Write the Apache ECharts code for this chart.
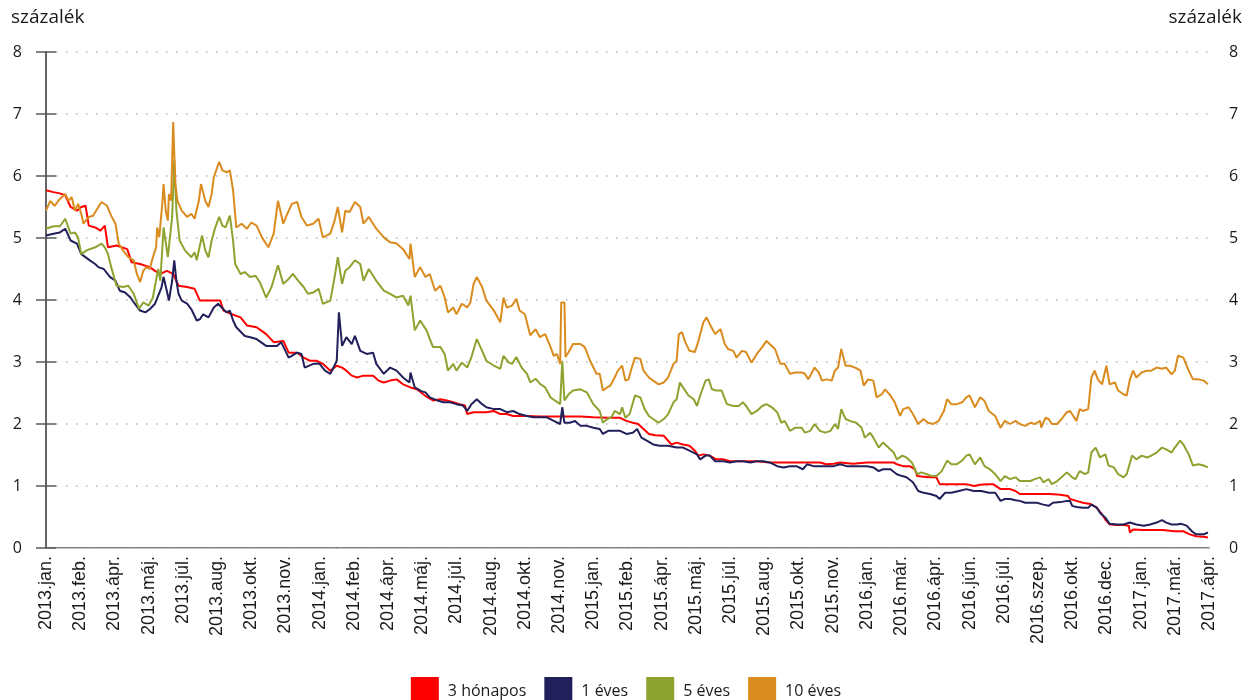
<!DOCTYPE html>
<html><head><meta charset="utf-8">
<script src="https://cdn.jsdelivr.net/npm/echarts@6/dist/echarts.min.js"></script>
<style>html,body{margin:0;padding:0;background:#fff}#c{width:1252px;height:700px}</style>
</head><body><div id="c"></div>
<script>
// x values: trading-day index since 2013 January (32 trading days between tick labels)
const tickLabels = ['2013.jan.','2013.feb.','2013.ápr.','2013.máj.','2013.júl.','2013.aug.','2013.okt.','2013.nov.',
  '2014.jan.','2014.feb.','2014.ápr.','2014.máj.','2014.júl.','2014.aug.','2014.okt.','2014.nov.',
  '2015.jan.','2015.feb.','2015.ápr.','2015.máj.','2015.júl.','2015.aug.','2015.okt.','2015.nov.',
  '2016.jan.','2016.már.','2016.ápr.','2016.jún.','2016.júl.','2016.szep.','2016.okt.','2016.dec.',
  '2017.jan.','2017.már.','2017.ápr.'];
const daysPerLabel = 32;
const seriesNames = ['3 hónapos','1 éves','5 éves','10 éves'];
const seriesColors = ['#ff0000','#22205a','#8da32f','#da8b1e'];

const m3 = [[0,5.77],[7,5.74],[13,5.72],[18,5.69],[23,5.50],[29,5.44],[33,5.50],[37,5.52],[40,5.20],[46,5.17],[51,5.12],[55,5.20],[58,4.85],[66,4.88],[76,4.82],[80,4.61],[88,4.58],[97,4.53],[102,4.47],[107,4.42],[113,4.47],[119,4.42],[124,4.23],[132,4.21],[139,4.18],[144,3.99],[153,3.99],[163,3.99],[166,3.83],[174,3.77],[182,3.72],[188,3.59],[197,3.56],[206,3.45],[213,3.32],[222,3.34],[227,3.15],[235,3.15],[241,3.07],[247,3.02],[253,3.02],[259,2.97],[266,2.86],[272,2.94],[277,2.91],[281,2.86],[286,2.78],[291,2.75],[297,2.78],[306,2.78],[311,2.70],[316,2.67],[322,2.70],[328,2.72],[334,2.64],[341,2.59],[347,2.56],[353,2.48],[356,2.44],[362,2.38],[369,2.40],[375,2.38],[381,2.35],[387,2.32],[392,2.30],[394,2.16],[400,2.19],[406,2.19],[412,2.19],[419,2.21],[425,2.16],[431,2.16],[437,2.13],[450,2.13],[462,2.12],[475,2.12],[487,2.12],[500,2.12],[512,2.11],[525,2.10],[537,2.10],[543,2.05],[549,2.02],[554,2.00],[559,1.92],[564,1.84],[570,1.82],[578,1.81],[582,1.73],[585,1.67],[590,1.70],[596,1.67],[602,1.65],[607,1.57],[610,1.49],[615,1.51],[621,1.49],[627,1.43],[634,1.43],[640,1.40],[652,1.40],[665,1.40],[677,1.38],[690,1.38],[702,1.38],[715,1.38],[724,1.38],[730,1.35],[737,1.36],[743,1.38],[755,1.36],[768,1.38],[780,1.38],[793,1.38],[796,1.35],[802,1.32],[808,1.32],[813,1.27],[815,1.16],[821,1.15],[827,1.14],[833,1.14],[836,1.03],[841,1.03],[849,1.03],[855,1.03],[861,1.03],[868,1.00],[874,1.02],[880,1.03],[886,1.03],[893,0.95],[902,0.95],[907,0.92],[911,0.87],[921,0.87],[930,0.87],[939,0.87],[949,0.86],[956,0.84],[958,0.79],[964,0.76],[970,0.73],[977,0.71],[983,0.65],[988,0.54],[991,0.46],[995,0.38],[1002,0.37],[1008,0.37],[1013,0.36],[1014,0.25],[1017,0.30],[1027,0.29],[1036,0.29],[1045,0.29],[1055,0.27],[1064,0.27],[1070,0.22],[1076,0.19],[1083,0.18],[1087,0.17]];

const y1 = [[0,5.04],[7,5.07],[13,5.09],[18,5.15],[23,4.96],[29,4.91],[33,4.74],[41,4.64],[46,4.58],[49,4.53],[54,4.50],[60,4.37],[65,4.31],[69,4.15],[74,4.12],[79,4.04],[83,3.94],[88,3.83],[93,3.80],[97,3.85],[102,3.94],[105,4.07],[108,4.20],[110,4.37],[113,4.15],[115,3.99],[118,4.31],[120,4.64],[122,4.31],[124,4.10],[127,3.99],[132,3.94],[136,3.85],[141,3.67],[144,3.69],[147,3.77],[152,3.72],[157,3.88],[161,3.94],[166,3.85],[169,3.80],[172,3.83],[175,3.67],[178,3.56],[186,3.42],[191,3.40],[197,3.37],[206,3.26],[216,3.26],[220,3.32],[227,3.07],[235,3.15],[239,3.13],[242,2.91],[250,2.97],[256,2.97],[261,2.86],[266,2.81],[269,2.91],[272,3.02],[274,3.80],[277,3.26],[281,3.40],[286,3.29],[289,3.42],[294,3.18],[300,3.13],[306,3.15],[309,2.97],[316,2.81],[322,2.91],[328,2.86],[334,2.75],[340,2.67],[341,2.83],[345,2.59],[351,2.53],[355,2.51],[359,2.43],[366,2.38],[372,2.35],[378,2.35],[384,2.32],[390,2.30],[394,2.21],[398,2.32],[403,2.40],[408,2.32],[412,2.27],[419,2.24],[425,2.24],[431,2.19],[437,2.21],[443,2.16],[450,2.13],[456,2.11],[462,2.11],[468,2.11],[475,2.05],[481,2.00],[483,2.27],[485,2.02],[490,2.02],[495,2.05],[500,1.97],[506,1.97],[512,1.94],[518,1.92],[521,1.84],[526,1.89],[532,1.89],[537,1.89],[543,1.84],[549,1.86],[553,1.92],[557,1.78],[562,1.73],[568,1.67],[574,1.65],[582,1.65],[590,1.62],[596,1.62],[602,1.57],[609,1.51],[612,1.43],[617,1.49],[621,1.49],[626,1.40],[634,1.40],[640,1.38],[646,1.40],[652,1.40],[659,1.38],[665,1.40],[671,1.40],[677,1.38],[684,1.32],[690,1.30],[696,1.32],[702,1.32],[708,1.27],[712,1.35],[718,1.32],[724,1.32],[730,1.32],[737,1.32],[743,1.35],[749,1.32],[755,1.32],[762,1.32],[768,1.32],[774,1.30],[779,1.24],[783,1.27],[790,1.27],[796,1.19],[801,1.16],[805,1.14],[811,1.06],[816,0.92],[821,0.89],[827,0.87],[833,0.84],[836,0.79],[841,0.89],[847,0.89],[854,0.92],[861,0.95],[868,0.92],[875,0.92],[882,0.89],[888,0.89],[893,0.76],[897,0.79],[902,0.79],[907,0.77],[911,0.76],[916,0.73],[921,0.73],[927,0.73],[933,0.70],[938,0.68],[942,0.73],[949,0.74],[955,0.76],[958,0.76],[960,0.68],[964,0.66],[970,0.65],[975,0.65],[978,0.70],[983,0.65],[986,0.57],[991,0.49],[995,0.39],[1002,0.38],[1008,0.38],[1014,0.41],[1020,0.38],[1027,0.36],[1033,0.38],[1039,0.41],[1044,0.45],[1048,0.41],[1053,0.38],[1058,0.38],[1062,0.39],[1067,0.36],[1072,0.27],[1076,0.22],[1083,0.22],[1087,0.25]];

const y5 = [[0,5.15],[7,5.19],[13,5.19],[18,5.31],[23,5.07],[27,5.09],[30,5.01],[33,4.74],[38,4.80],[46,4.85],[52,4.91],[55,4.85],[58,4.74],[61,4.53],[66,4.23],[72,4.21],[77,4.23],[82,4.10],[87,3.86],[91,3.96],[96,3.91],[100,4.04],[102,4.23],[105,4.50],[107,4.31],[110,5.17],[114,4.69],[118,5.34],[120,6.25],[122,5.44],[125,4.96],[130,4.80],[136,4.69],[139,4.77],[141,4.64],[146,5.04],[149,4.80],[152,4.69],[155,4.96],[158,5.15],[162,5.34],[165,5.20],[168,5.17],[172,5.36],[175,4.96],[177,4.58],[182,4.42],[186,4.45],[191,4.37],[196,4.39],[200,4.29],[206,4.04],[211,4.21],[217,4.56],[222,4.26],[227,4.34],[231,4.42],[236,4.31],[241,4.21],[245,4.10],[250,4.12],[255,4.18],[259,3.94],[266,3.99],[270,4.37],[273,4.69],[277,4.26],[280,4.47],[284,4.53],[289,4.64],[294,4.58],[297,4.31],[302,4.50],[309,4.31],[316,4.15],[322,4.10],[328,4.04],[334,4.07],[339,3.91],[341,4.07],[345,3.51],[350,3.67],[356,3.51],[362,3.24],[369,3.24],[373,3.13],[376,2.86],[381,2.97],[384,2.86],[389,2.99],[394,2.91],[398,3.08],[403,3.37],[408,3.18],[412,3.02],[419,2.94],[425,2.89],[428,3.10],[433,2.99],[436,2.97],[440,3.08],[445,2.91],[450,2.81],[453,2.67],[458,2.73],[462,2.65],[467,2.59],[472,2.43],[476,2.38],[481,2.32],[483,3.02],[485,2.38],[489,2.48],[493,2.54],[500,2.56],[506,2.51],[512,2.32],[518,2.21],[521,2.02],[525,2.08],[529,2.11],[532,2.21],[537,2.16],[539,2.27],[542,2.10],[546,2.16],[551,2.46],[556,2.43],[560,2.24],[564,2.13],[568,2.08],[573,2.02],[578,2.08],[582,2.16],[587,2.35],[590,2.40],[593,2.67],[596,2.59],[601,2.46],[606,2.40],[609,2.29],[612,2.46],[617,2.70],[620,2.72],[623,2.56],[627,2.54],[632,2.54],[637,2.32],[643,2.29],[648,2.29],[652,2.35],[655,2.29],[660,2.16],[665,2.21],[670,2.29],[674,2.32],[679,2.27],[684,2.19],[688,2.02],[691,2.05],[696,1.89],[701,1.94],[707,1.94],[710,1.86],[715,1.89],[719,2.00],[724,1.89],[729,1.86],[734,1.89],[738,2.00],[741,1.92],[744,2.24],[748,2.08],[752,2.05],[758,2.02],[763,1.94],[766,1.78],[771,1.86],[774,1.78],[779,1.62],[783,1.70],[788,1.62],[793,1.54],[796,1.43],[801,1.49],[805,1.46],[810,1.38],[815,1.19],[819,1.22],[824,1.19],[829,1.16],[833,1.16],[838,1.24],[843,1.41],[847,1.35],[852,1.35],[857,1.41],[861,1.49],[864,1.51],[869,1.35],[874,1.46],[878,1.32],[883,1.27],[888,1.19],[893,1.08],[897,1.16],[902,1.11],[907,1.14],[911,1.08],[916,1.08],[921,1.08],[925,1.11],[930,1.14],[933,1.06],[938,1.11],[941,1.03],[946,1.08],[950,1.14],[955,1.22],[960,1.14],[963,1.11],[967,1.24],[972,1.19],[975,1.22],[978,1.54],[982,1.62],[986,1.46],[991,1.51],[994,1.33],[999,1.30],[1003,1.19],[1008,1.14],[1011,1.19],[1016,1.49],[1020,1.43],[1025,1.49],[1030,1.46],[1034,1.49],[1039,1.54],[1044,1.62],[1048,1.59],[1053,1.54],[1056,1.62],[1061,1.73],[1064,1.67],[1069,1.51],[1073,1.33],[1078,1.35],[1083,1.33],[1087,1.30]];

const y10 = [[0,5.44],[4,5.60],[8,5.52],[13,5.63],[18,5.71],[21,5.60],[24,5.66],[27,5.44],[30,5.55],[33,5.39],[35,5.23],[40,5.34],[44,5.36],[49,5.50],[52,5.58],[57,5.52],[61,5.36],[65,5.23],[68,4.91],[72,4.80],[77,4.69],[82,4.64],[85,4.42],[88,4.29],[91,4.47],[94,4.53],[97,4.50],[100,4.69],[103,4.85],[104,5.17],[106,5.01],[109,5.60],[110,5.87],[112,5.44],[114,5.28],[115,5.71],[117,5.60],[119,6.87],[121,5.87],[123,5.60],[127,5.44],[132,5.34],[136,5.39],[139,5.31],[143,5.60],[145,5.87],[149,5.60],[152,5.50],[155,5.71],[157,5.98],[162,6.23],[165,6.09],[169,6.06],[172,6.09],[175,5.77],[178,5.17],[183,5.23],[188,5.15],[192,5.25],[197,5.20],[202,5.01],[208,4.85],[213,5.07],[217,5.60],[222,5.23],[225,5.36],[230,5.55],[235,5.58],[239,5.34],[244,5.20],[250,5.23],[255,5.31],[259,5.01],[266,5.07],[270,5.28],[273,5.50],[277,5.09],[280,5.44],[284,5.42],[289,5.58],[294,5.50],[297,5.23],[302,5.34],[309,5.15],[316,5.01],[322,4.93],[328,4.91],[334,4.82],[340,4.66],[341,4.91],[345,4.37],[350,4.53],[355,4.37],[359,4.42],[364,4.15],[369,4.23],[373,4.04],[376,3.80],[381,3.88],[384,3.77],[389,3.94],[394,3.88],[397,3.96],[400,4.26],[403,4.37],[408,4.21],[412,3.99],[419,3.83],[425,3.64],[428,4.04],[431,3.88],[436,3.91],[440,4.02],[443,3.83],[448,3.77],[453,3.43],[458,3.53],[462,3.40],[467,3.45],[472,3.24],[475,3.10],[478,3.13],[481,2.97],[482,3.96],[485,3.96],[486,3.08],[489,3.16],[493,3.29],[500,3.29],[504,3.24],[509,3.02],[515,2.81],[518,2.81],[521,2.54],[525,2.59],[528,2.62],[532,2.75],[535,2.86],[539,2.94],[542,2.70],[545,2.72],[548,2.91],[551,3.07],[556,3.05],[559,2.86],[564,2.75],[568,2.70],[573,2.64],[578,2.67],[582,2.75],[587,2.97],[590,3.02],[592,3.45],[595,3.48],[598,3.32],[602,3.18],[607,3.16],[610,3.32],[615,3.64],[618,3.72],[621,3.61],[626,3.45],[631,3.53],[635,3.29],[638,3.21],[643,3.18],[646,3.07],[651,3.18],[655,3.16],[660,2.99],[665,3.13],[670,3.24],[674,3.34],[677,3.29],[682,3.21],[687,2.97],[691,2.97],[696,2.81],[701,2.83],[707,2.83],[710,2.81],[713,2.72],[716,2.81],[719,2.91],[723,2.83],[726,2.70],[730,2.72],[735,2.70],[738,2.86],[741,2.91],[744,3.21],[748,2.94],[752,2.94],[757,2.91],[762,2.86],[765,2.62],[769,2.72],[774,2.70],[777,2.43],[782,2.48],[785,2.56],[790,2.46],[794,2.35],[799,2.13],[802,2.24],[807,2.27],[811,2.16],[816,2.00],[821,2.08],[825,2.02],[830,2.00],[835,2.05],[840,2.21],[843,2.40],[847,2.32],[852,2.32],[857,2.35],[861,2.43],[864,2.46],[869,2.27],[874,2.43],[878,2.37],[882,2.21],[888,2.13],[893,1.94],[897,2.05],[902,2.00],[907,2.05],[911,2.00],[916,1.97],[921,2.02],[925,2.00],[930,2.05],[931,1.94],[935,2.10],[938,2.08],[941,2.00],[946,2.00],[950,2.08],[955,2.19],[958,2.21],[961,2.13],[964,2.05],[967,2.24],[970,2.21],[975,2.24],[978,2.75],[981,2.86],[984,2.72],[988,2.64],[992,2.94],[995,2.64],[1000,2.67],[1003,2.54],[1008,2.48],[1011,2.46],[1014,2.72],[1017,2.86],[1020,2.75],[1025,2.83],[1030,2.86],[1034,2.86],[1039,2.91],[1044,2.89],[1048,2.91],[1053,2.80],[1056,2.86],[1059,3.10],[1064,3.07],[1069,2.86],[1073,2.72],[1078,2.72],[1083,2.70],[1087,2.64]];

const seriesData = [m3, y1, y5, y10];
const lastDay = daysPerLabel * (tickLabels.length - 1);

const chart = echarts.init(document.getElementById('c'), null, {renderer: 'canvas'});
const txt = '#1a1a1a';
const axisCol = '#5a5a5a';
const yAxisBase = {
  type: 'value', min: 0, max: 8, interval: 1,
  axisLine: {show: true, lineStyle: {color: axisCol, width: 1.5}},
  axisTick: {show: true, length: 10, lineStyle: {color: axisCol, width: 1.5}},
  axisLabel: {fontSize: 16, color: txt, fontFamily: 'Open Sans'}
};
chart.setOption({
  animation: false,
  backgroundColor: '#ffffff',
  grid: {left: 46, right: 43, top: 52, bottom: 152, containLabel: false},
  graphic: [
    {type: 'text', left: 11, top: 8, style: {text: 'százalék', fontSize: 19, fontFamily: 'Open Sans', fill: txt}},
    {type: 'text', right: 10, top: 8, style: {text: 'százalék', fontSize: 19, fontFamily: 'Open Sans', fill: txt}}
  ],
  xAxis: [
    {type: 'value', min: 0, max: lastDay, interval: daysPerLabel,
     axisLine: {show: true, lineStyle: {color: axisCol, width: 1.5}},
     axisTick: {show: false}, splitLine: {show: false},
     axisLabel: {rotate: 90, fontSize: 18, fontFamily: 'Liberation Sans', color: txt, margin: 8,
       showMinLabel: true, showMaxLabel: true,
       formatter: v => tickLabels[Math.round(v / daysPerLabel)] || ''}},
    {type: 'value', position: 'top', min: 0, max: lastDay,
     axisLine: {show: true, lineStyle: {color: '#c4c4c4', width: 1}},
     axisTick: {show: false}, axisLabel: {show: false}, splitLine: {show: false}}
  ],
  yAxis: [
    Object.assign({}, yAxisBase, {position: 'left',
      axisLabel: Object.assign({}, yAxisBase.axisLabel, {margin: 24}),
      splitLine: {show: true, lineStyle: {color: '#b5b5b5', width: 1.5, type: [1.5, 8.5]}}}),
    Object.assign({}, yAxisBase, {position: 'right',
      axisLabel: Object.assign({}, yAxisBase.axisLabel, {margin: 20}),
      splitLine: {show: false}})
  ],
  legend: {
    data: seriesNames, left: 'center', top: 672, icon: 'rect',
    itemWidth: 28, itemHeight: 28, itemGap: 18,
    textStyle: {fontSize: 16, fontFamily: 'Open Sans', color: txt, padding: [0, 0, 0, 4]}
  },
  series: seriesNames.map((name, i) => ({
    name, type: 'line', data: seriesData[i], xAxisIndex: 0, yAxisIndex: 0,
    showSymbol: false, symbol: 'none', color: seriesColors[i],
    lineStyle: {width: 2, color: seriesColors[i]}
  }))
});
</script></body></html>
